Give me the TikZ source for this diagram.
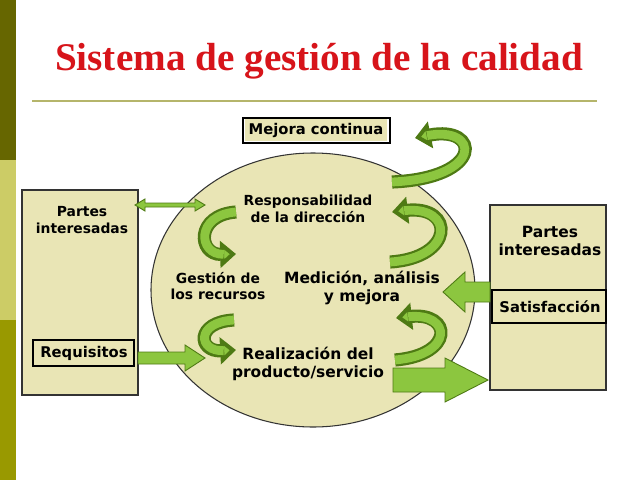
\documentclass[tikz,border=0pt]{standalone}
\usepackage{fontspec}
\setmainfont{DejaVu Sans}
\newfontfamily\titlefont{Liberation Serif}
\usetikzlibrary{arrows.meta,shapes.geometric}
\definecolor{boxfill}{HTML}{E9E5B5}
\definecolor{lgreen}{HTML}{8CC63F}
\definecolor{dgreen}{HTML}{4E7A14}
\definecolor{titred}{HTML}{D7141A}
\definecolor{bar1}{HTML}{666600}
\definecolor{bar2}{HTML}{CCCC66}
\definecolor{bar3}{HTML}{999900}
\definecolor{rule}{HTML}{B5B56B}
\tikzset{
  x=0.02cm,y=-0.02cm,
  panel/.style={draw=black!80,fill=boxfill,line width=0.6pt},
  lab/.style={font=\fontsize{7.9}{9.5}\selectfont\bfseries,align=center,text=black},
  bigl/.style={font=\fontsize{8.8}{10.5}\selectfont\bfseries,align=center,text=black},
  tagbox/.style={inner sep=2pt,font=\fontsize{8.4}{10}\selectfont\bfseries},
  fat/.style={draw=dgreen,fill=lgreen,line width=0.5pt}
}
\newcommand{\curl}[4]{%
  \draw[dgreen,line width=7.5pt,-{Triangle[length=9pt,width=15pt,fill=lgreen]}] #1 .. controls #2 and #3 .. #4;
  \draw[lgreen,line width=5pt,shorten >=7pt] #1 .. controls #2 and #3 .. #4;}
\begin{document}
\begin{tikzpicture}
\useasboundingbox (0,0) rectangle (639,480);
\fill[white] (0,0) rectangle (639,480);
\fill[bar1] (0,0) rectangle (16,160);
\fill[bar2] (0,160) rectangle (16,320);
\fill[bar3] (0,320) rectangle (16,480);
\node[font=\titlefont\fontsize{22.3}{26}\selectfont\bfseries,text=titred] (title) at (319,61) {Sistema de gestión de la calidad};
\draw[rule,line width=1pt] (32,101) -- (597,101);
% boxes
\path[panel] (22,190) rectangle (138,395);
\path[panel] (490,205) rectangle (606,390);
\path[panel] (313,290) ellipse [x radius=162,y radius=-137];
\node[lab] (pi1) at (82,220) {Partes\\interesadas};
\node[bigl] (pi2) at (550,241) {Partes\\interesadas};
\node[tagbox] (req) at (84,353) {Requisitos};
\draw[black,line width=0.6pt] (33,340) rectangle (134,366);
\node[tagbox] (sat) at (550,307) {Satisfacción};
\draw[black,line width=0.6pt] (492,290) rectangle (606,323);
\node[tagbox,fill=boxfill] (mej) at (316,130) {Mejora continua};
\draw[black,line width=0.6pt] (243,118) rectangle (390,143);
\node[lab] (resp) at (308,209) {Responsabilidad\\de la dirección};
\node[lab] (gest) at (218,286) {Gestión de\\los recursos};
\node[bigl] (med) at (362,288) {Medición, análisis\\y mejora};
\node[bigl] (real) at (308,364) {Realización del\\producto/servicio};
% straight arrows
\path[fat] (135,205) -- (145,199) -- (145,203) -- (195,203) -- (195,199) -- (205,205) -- (195,211) -- (195,207) -- (145,207) -- (145,211) -- cycle;
\path[fat] (138,352) -- (185,352) -- (185,345) -- (205,358) -- (185,371) -- (185,364) -- (138,364) -- cycle;
\path[fat] (393,368) -- (445,368) -- (445,358) -- (488,380) -- (445,402) -- (445,392) -- (393,392) -- cycle;
\path[fat] (490,282) -- (465,282) -- (465,272) -- (443,292) -- (465,312) -- (465,302) -- (490,302) -- cycle;
% curly arrows
\curl{(392,182)}{(485,178)}{(480,125)}{(415,138)}
\curl{(390,262)}{(455,258)}{(455,205)}{(392,212)}
\curl{(395,360)}{(455,355)}{(452,312)}{(396,318)}
\curl{(236,212)}{(195,215)}{(198,255)}{(236,254)}
\curl{(234,320)}{(195,322)}{(198,352)}{(236,350)}
\end{tikzpicture}
\end{document}
